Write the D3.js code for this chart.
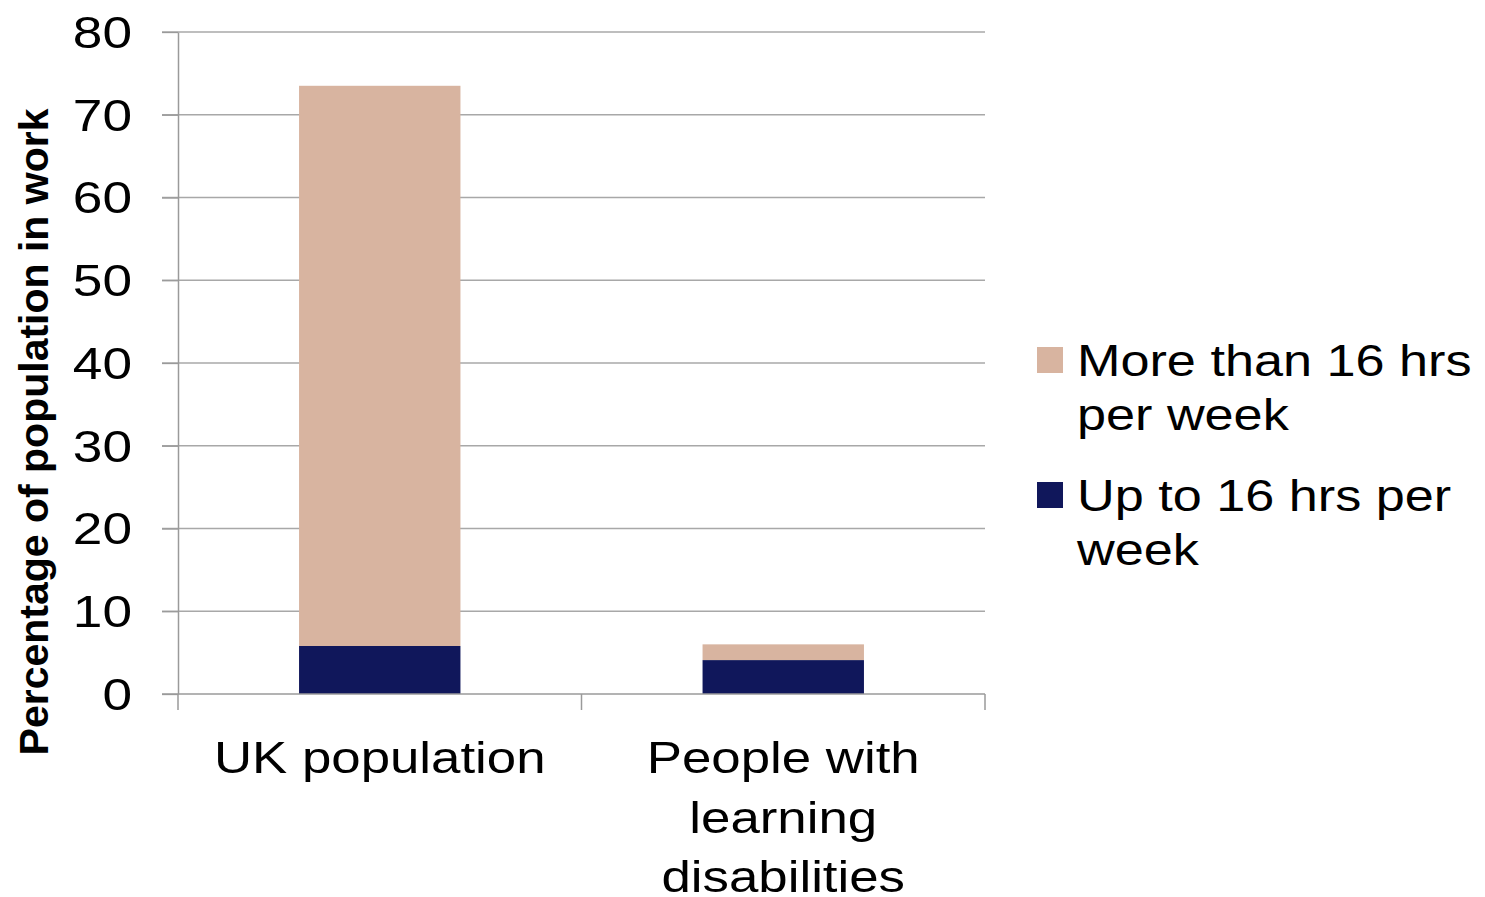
<!DOCTYPE html>
<html>
<head>
<meta charset="utf-8">
<script src="https://cdn.jsdelivr.net/npm/d3@7"></script>
<style>
  html, body { margin: 0; padding: 0; background: #fff; }
  svg { display: block; font-family: "Liberation Sans", Arial, sans-serif; }
</style>
</head>
<body>
<svg id="chart" width="1485" height="897"></svg>
<script>
// ---- data ----
const categories = ["UK population", "People with learning disabilities"];
const categoryLines = [["UK population"], ["People with", "learning", "disabilities"]];
const seriesNames = ["Up to 16 hrs per week", "More than 16 hrs per week"];
const upTo16 = [5.8, 4.1];
const moreThan16 = [67.7, 1.9];
const yTicks = [0, 10, 20, 30, 40, 50, 60, 70, 80];
const legendLines = [["More than 16 hrs", "per week"], ["Up to 16 hrs per", "week"]];
const yTitle = "Percentage of population in work";

// ---- styles ----
const colors = { up: "#10175B", more: "#D8B4A0" };
const gridColor = "#A8A8A8";
const axisColor = "#9A9A9A";
const stretch = 1.2;

const svg = d3.select("#chart");
const plotLeft = 178, plotRight = 985, plotTop = 32, plotBottom = 694;

const x = d3.scaleBand().domain(categories).range([plotLeft, plotRight])
  .paddingInner(0.6).paddingOuter(0.3);
const y = d3.scaleLinear().domain([0, 80]).range([plotBottom, plotTop]);

// gridlines
svg.append("g").selectAll("line").data(yTicks.filter(d => d > 0)).join("line")
  .attr("x1", plotLeft - 16).attr("x2", plotRight)
  .attr("y1", d => y(d)).attr("y2", d => y(d))
  .attr("stroke", gridColor).attr("stroke-width", 1.3);

// stacked bars
const rows = categories.map((c, i) => ({ cat: c, up: upTo16[i], more: moreThan16[i] }));
const stack = d3.stack().keys(["up", "more"])(rows);
const g = svg.append("g");
stack.forEach(layer => {
  g.selectAll(null).data(layer).join("rect")
    .attr("x", d => x(d.data.cat))
    .attr("width", x.bandwidth())
    .attr("y", d => y(d[1]))
    .attr("height", d => y(d[0]) - y(d[1]))
    .attr("fill", colors[layer.key]);
});

// y axis
const yAxis = svg.append("g").attr("transform", `translate(${plotLeft},0)`)
  .call(d3.axisLeft(y).tickValues(yTicks).tickSize(16).tickSizeOuter(0).tickFormat(d3.format("d")));
yAxis.select(".domain").attr("stroke", axisColor).attr("stroke-width", 1.5);
yAxis.selectAll(".tick line").attr("stroke", axisColor).attr("stroke-width", 1.3);
yAxis.selectAll(".tick text")
  .attr("x", 0).attr("dy", "0.35em")
  .attr("transform", `translate(-46,0) scale(1.21,1)`)
  .attr("font-size", 44).attr("fill", "#000")
  .attr("font-family", "'Liberation Sans', Arial, sans-serif");

// x axis
const xAxis = svg.append("g").attr("transform", `translate(0,${plotBottom})`)
  .call(d3.axisBottom(x).tickSize(0).tickFormat(""));
xAxis.select(".domain").attr("stroke", axisColor).attr("stroke-width", 1.5)
  .attr("d", `M${plotLeft - 16},0H${plotRight}`);
xAxis.selectAll(".tick").remove();
const xTickPos = [plotLeft, ...categories.slice(1).map(c => x(c) - x.step() * x.paddingInner() / 2), plotRight];
xAxis.selectAll("line.sep").data(xTickPos).join("line").attr("class", "sep")
  .attr("x1", d => d).attr("x2", d => d).attr("y1", 0).attr("y2", 16)
  .attr("stroke", axisColor).attr("stroke-width", 1.5);

// category labels
categories.forEach((c, i) => {
  const cx = x(c) + x.bandwidth() / 2;
  categoryLines[i].forEach((ln, j) => {
    svg.append("text")
      .attr("transform", `translate(${cx},${773 + j * 59.5}) scale(${stretch},1)`)
      .attr("text-anchor", "middle").attr("font-size", 44).attr("fill", "#000")
      .text(ln);
  });
});

// y title
svg.append("text")
  .attr("transform", `translate(48,432) rotate(-90)`)
  .attr("text-anchor", "middle").attr("font-size", 41).attr("font-weight", "bold")
  .attr("fill", "#000").text(yTitle);

// legend
const legendItems = [
  { color: colors.more, lines: legendLines[0], y: 347 },
  { color: colors.up, lines: legendLines[1], y: 482 }
];
legendItems.forEach(item => {
  svg.append("rect").attr("x", 1037).attr("y", item.y).attr("width", 26).attr("height", 26)
    .attr("fill", item.color);
  item.lines.forEach((ln, j) => {
    svg.append("text")
      .attr("transform", `translate(1077,${item.y + 29 + j * 54}) scale(${stretch},1)`)
      .attr("font-size", 43.5).attr("fill", "#000").text(ln);
  });
});
</script>
</body>
</html>
